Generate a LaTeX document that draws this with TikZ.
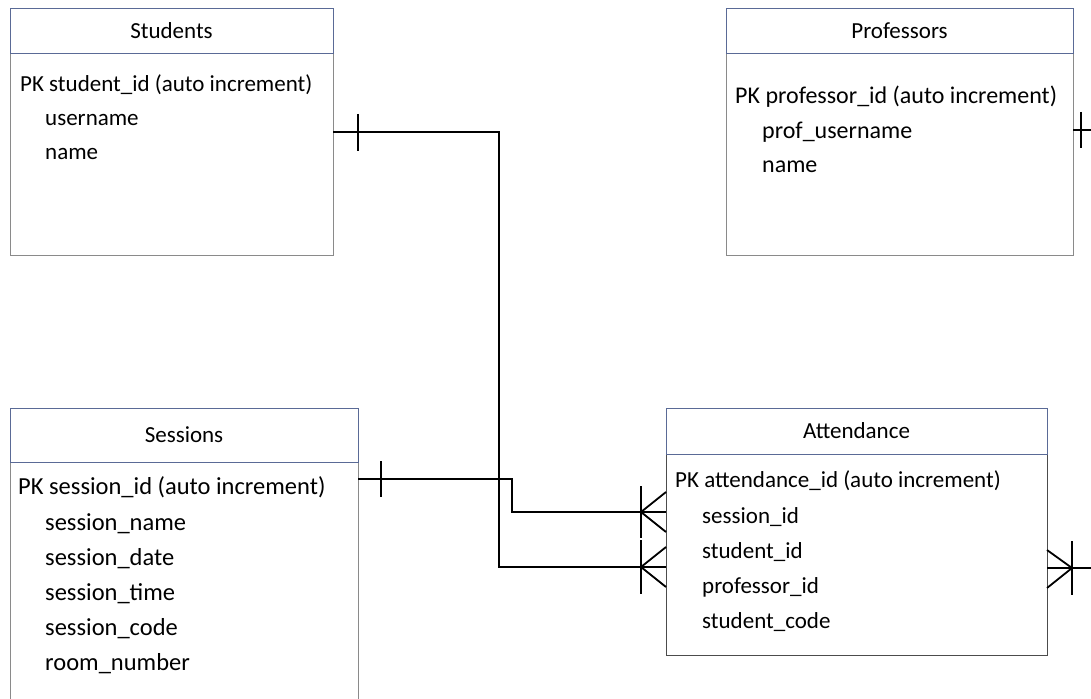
\documentclass[tikz,border=0pt]{standalone}
\usepackage{fontspec}
\setmainfont{Carlito}
\usetikzlibrary{positioning}
\definecolor{headblue}{HTML}{5A6A96}
\definecolor{boxgray}{HTML}{8A8A8A}
\tikzset{
  enthead/.style={draw=headblue, line width=0.9pt, fill=white, inner sep=0pt, outer sep=0pt,
    anchor=north west, font=\fontsize{23}{28}\selectfont},
  entbody/.style={draw=boxgray, line width=0.9pt, inner sep=0pt, outer sep=0pt, anchor=north west},
  attr/.style={inner sep=0pt, anchor=base west, font=\fontsize{23}{28}\selectfont},
  rel/.style={line width=1.8pt, black},
}

\begin{document}
\begin{tikzpicture}[x=1pt,y=-1pt]

\clip (0,0) rectangle (1091,698);
\fill[white] (0,0) rectangle (1091,698);

% Students
\node[entbody, minimum width=323pt, minimum height=202pt] (stubody) at (10,53) {};
\node[enthead, minimum width=323pt, minimum height=45pt] (stuhead) at (10,8) {Students};
\node[attr] (stupk) at (20,92) {PK student\_id (auto increment)};
\foreach \txt [count=\i] in {username, name}
  \node[attr] (stu\i) at (45,{92+33.5*\i}) {\txt};

% Professors
\node[entbody, minimum width=347pt, minimum height=202pt] (profbody) at (726,53) {};
\node[enthead, minimum width=347pt, minimum height=45pt] (profhead) at (726,8) {Professors};
\node[attr, font=\fontsize{24}{28}\selectfont] (profpk) at (735,104) {PK professor\_id (auto increment)};
\foreach \txt [count=\i] in {prof\_username, name}
  \node[attr, font=\fontsize{24}{28}\selectfont] (prof\i) at (762,{104+34*\i}) {\txt};

% Sessions
\node[entbody, minimum width=348pt, minimum height=260pt] (sesbody) at (10,462) {};
\node[enthead, minimum width=348pt, minimum height=54pt] (seshead) at (10,408) {Sessions};
\node[attr, font=\fontsize{24.5}{28}\selectfont] (sespk) at (18,494) {PK session\_id (auto increment)};
\foreach \txt [count=\i] in {session\_name, session\_date, session\_time, session\_code, room\_number}
  \node[attr, font=\fontsize{24.5}{28}\selectfont] (ses\i) at (45,{495+35*\i}) {\txt};

% Attendance
\node[entbody, draw=black!70, minimum width=381pt, minimum height=201pt] (attbody) at (666,454) {};
\node[enthead, minimum width=381pt, minimum height=46pt] (atthead) at (666,408) {Attendance};
\node[attr] (attpk) at (675,487) {PK attendance\_id (auto increment)};
\foreach \txt [count=\i] in {session\_id, student\_id, professor\_id, student\_code}
  \node[attr] (att\i) at (702,{488+35*\i}) {\txt};

% relationship end points
\coordinate (stuend) at ([yshift=-79pt]stubody.north east);
\coordinate (sesend) at ([yshift=-17pt]sesbody.north east);
\coordinate (profend) at ([yshift=-77pt]profbody.north east);
\coordinate (attses) at ([yshift=-58pt]attbody.north west);
\coordinate (attstu) at ([yshift=-113pt]attbody.north west);
\coordinate (attprof) at ([yshift=-114pt]attbody.north east);

% Students -- Attendance
\draw[rel] (stuend) -- ++(166,0) |- (attstu);
\draw[rel] (stuend) ++(25,-18) -- ++(0,37);
\draw[rel] (attstu) ++(-25,-27) -- ++(0,54);
\draw[rel] (attstu) ++(0,-20) -- ++(-25,20) -- ++(25,20);

% Sessions -- Attendance
\draw[rel] (sesend) -- ++(154,0) |- (attses);
\draw[rel] (sesend) ++(23,-18) -- ++(0,36);
\draw[rel] (attses) ++(-25,-26) -- ++(0,52);
\draw[rel] (attses) ++(0,-20) -- ++(-25,20) -- ++(25,20);

% Professors stub
\draw[rel] (profend) -- ++(30,0);
\draw[rel] (profend) ++(8,-18) -- ++(0,36);

% Attendance stub to the right
\draw[rel] (attprof) -- ++(60,0);
\draw[rel] (attprof) ++(0,-18) -- ++(25,18) -- ++(-25,20);
\draw[rel] (attprof) ++(25,-27) -- ++(0,54);

\end{tikzpicture}
\end{document}
